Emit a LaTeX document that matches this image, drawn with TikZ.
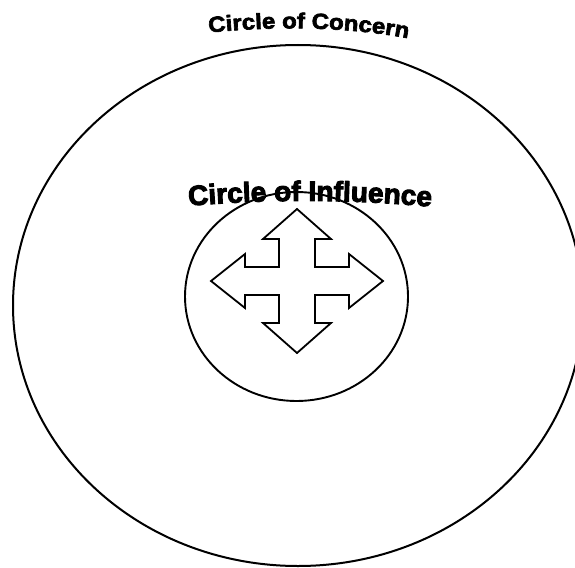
\documentclass[tikz,border=0pt]{standalone}
\usepackage{fontspec}
\setmainfont{Liberation Sans}
\newfontfamily\concernfont{Liberation Sans}[FakeStretch=1.1,FakeBold=3]
\newfontfamily\influencefont{Liberation Sans}[FakeBold=3.5]
\usetikzlibrary{shapes.geometric,decorations.text}
\tikzset{
  ring/.style={draw, ellipse, inner sep=0pt},
  crossarrow/.style={draw, line width=1.8pt, line join=miter},
}
\begin{document}
\begin{tikzpicture}[x=1pt,y=-1pt]
\useasboundingbox (0,0) rectangle (575,567);
\clip (0,0) rectangle (575,567);
\fill[white] (0,0) rectangle (575,567);
% circles
\node[ring, minimum width=570pt, minimum height=521pt, line width=2pt] (concern) at (298,305.5) {};
\node[ring, minimum width=223pt, minimum height=209pt, line width=1.9pt] (influence) at (296.5,296.5) {};
% four-way arrow
\coordinate (arrowc) at (297,281);
\draw[crossarrow, shift={(arrowc)}]
  (0,-72) -- (34,-42) -- (18,-42) -- (18,-14) -- (52,-14) -- (52,-27) -- (86,0)
  -- (52,27) -- (52,14) -- (18,14) -- (18,42) -- (34,42) -- (0,72)
  -- (-34,42) -- (-18,42) -- (-18,14) -- (-52,14) -- (-52,27) -- (-86,0)
  -- (-52,-27) -- (-52,-14) -- (-18,-14) -- (-18,-42) -- (-34,-42) -- cycle;
% labels
\path[decorate, decoration={text along path, text align=center,
  text={|\concernfont\bfseries\fontsize{21.8pt}{24pt}\selectfont|Circle of Concern}}]
  (205,33) .. controls (270,26) and (345,26) .. (412,39);
\path[decorate, decoration={text along path, text align=center,
  text={|\influencefont\bfseries\fontsize{28pt}{30pt}\selectfont|Circle of Influence}}]
  (186,206) .. controls (270,199) and (350,199) .. (434,207);
\end{tikzpicture}
\end{document}
